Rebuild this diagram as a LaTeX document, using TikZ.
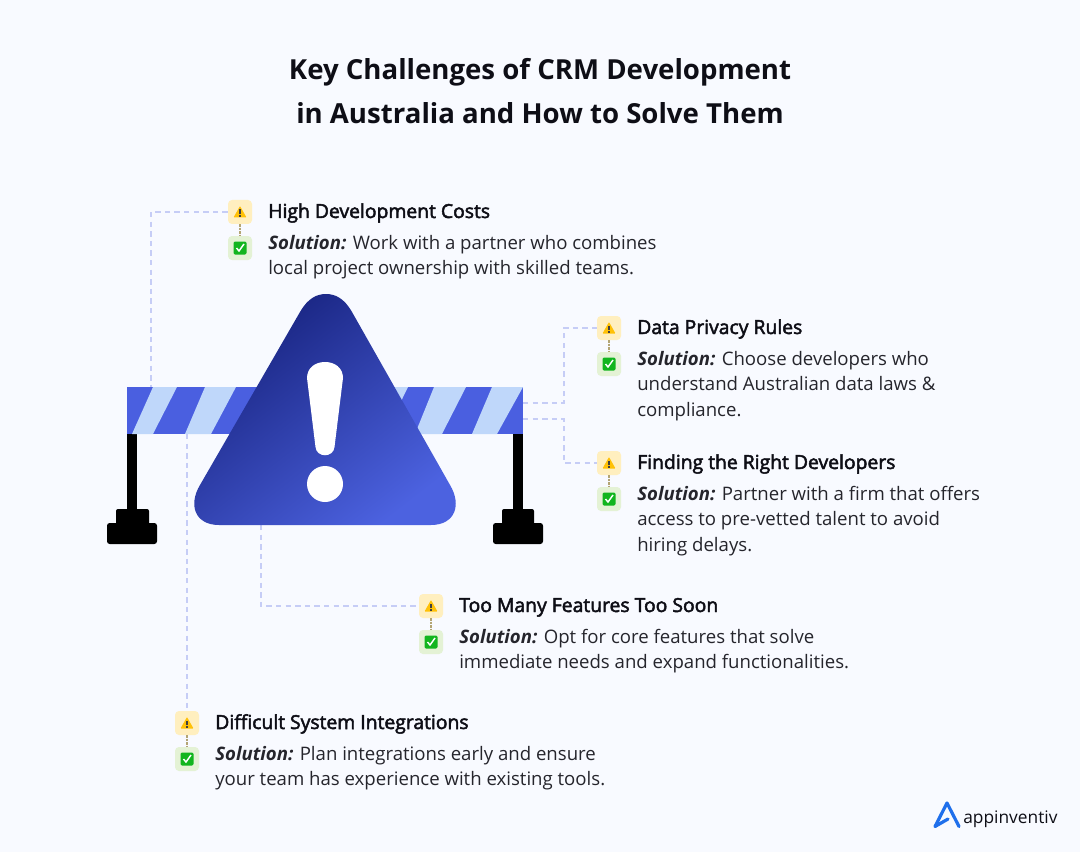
\documentclass[tikz,border=0pt]{standalone}
\usepackage{fontspec}
\setmainfont{Open Sans}
\newfontfamily\headf[FakeBold=2.5]{Open Sans}
\usetikzlibrary{calc}
\definecolor{bgc}{HTML}{F8FAFF}
\definecolor{barblue}{HTML}{4A5FE0}
\definecolor{barlight}{HTML}{BFD7FA}
\definecolor{dashc}{HTML}{C6CDF6}
\definecolor{warnbg}{HTML}{FFEFBF}
\definecolor{okbg}{HTML}{E4F2D5}
\definecolor{warny}{HTML}{FFC107}
\definecolor{okg}{HTML}{12B51F}
\definecolor{linkc}{HTML}{B3A574}
\definecolor{inkc}{HTML}{0E0E16}
\definecolor{bodyc}{HTML}{25252C}
\definecolor{logoc}{HTML}{1F6FEB}
\definecolor{tritop}{HTML}{16217C}
\definecolor{tribot}{HTML}{4C62E0}
\tikzset{
  x=0.75pt,y=-0.75pt,
  titletxt/.style={font=\bfseries\fontsize{20.7pt}{33pt}\selectfont,text=inkc,align=center,inner sep=0},
  headtxt/.style={font=\headf\fontsize{14.5pt}{16pt}\selectfont,text=inkc,anchor=base west,inner sep=0},
  bodytxt/.style={font=\fontsize{13.95pt}{19pt}\selectfont,text=bodyc,anchor=north west,align=left,inner sep=0},
  warnbox/.style={fill=warnbg,rounded corners=3pt,minimum size=18pt,inner sep=0},
  okbox/.style={fill=okbg,rounded corners=3pt,minimum size=18pt,inner sep=0},
  feeder/.style={draw=dashc,line width=0.9pt,dash pattern=on 4pt off 3.2pt},
  linker/.style={draw=linkc,line width=1.2pt,dash pattern=on 1.8pt off 0.8pt},
}
\newcommand{\issue}[5]{%
  \node[warnbox] (#1w) at (#2,#3) {};
  \node[okbox] (#1c) at (#2,#3+36) {};
  \draw[linker] (#1w.south) -- (#1c.north);
  \fill[warny,rounded corners=0.5pt] ($(#1w.center)+(-6.5,5.5)$) -- ($(#1w.center)+(0,-6)$) -- ($(#1w.center)+(6.5,5.5)$) -- cycle;
  \fill[black!75] ($(#1w.center)+(-0.9,-2.5)$) rectangle ($(#1w.center)+(0.9,2)$);
  \fill[black!75] ($(#1w.center)+(-0.9,3)$) rectangle ($(#1w.center)+(0.9,4.8)$);
  \fill[okg,rounded corners=1pt] ($(#1c.center)+(-6.5,-6.5)$) rectangle ($(#1c.center)+(6.5,6.5)$);
  \draw[white,line width=1.1pt] ($(#1c.center)+(-3.5,0)$) -- ($(#1c.center)+(-1,3)$) -- ($(#1c.center)+(4,-4)$);
  \node[headtxt] (#1h) at (#2+28,#3+6) {#4};
  \node[bodytxt] (#1b) at (#2+28,#3+23) {\textbf{\textit{Solution:}} #5};
}
\begin{document}
\begin{tikzpicture}
\useasboundingbox (0,0) rectangle (1080,852);
\fill[bgc] (0,0) rectangle (1080,852);
\node[titletxt] (title) at (540,91) {Key Challenges of CRM Development\\in Australia and How to Solve Them};

% posts
\fill[black] (127,434) rectangle (137,512);
\fill[black,rounded corners=1.5pt] (116,509) rectangle (149,530);
\fill[black,rounded corners=2pt] (107,523) rectangle (157,544);
\fill[black] (513,434) rectangle (523,512);
\fill[black,rounded corners=1.5pt] (502,509) rectangle (534,530);
\fill[black,rounded corners=2pt] (493,523) rectangle (543,544);

% bar
\fill[barblue] (127,387) rectangle (523,434);
\fill[barlight] (153,387) -- (177,387) -- (153,434) -- (132,434) -- cycle;
\fill[barlight] (205,387) -- (236,387) -- (211,434) -- (185,434) -- cycle;
\fill[barlight] (380,387) -- (408,387) -- (385,434) -- (360,434) -- cycle;
\fill[barlight] (434,387) -- (466,387) -- (442,434) -- (415,434) -- cycle;
\fill[barlight] (492,387) -- (523,387) -- (497,434) -- (472,434) -- cycle;

% issues
\issue{a}{240}{212}{High Development Costs}{Work with a partner who combines\\local project ownership with skilled teams.}
\issue{b}{609}{328}{Data Privacy Rules}{Choose developers who\\understand Australian data laws \&\\compliance.}
\issue{c}{609}{463}{Finding the Right Developers}{Partner with a firm that offers\\access to pre-vetted talent to avoid\\hiring delays.}
\issue{d}{431}{606}{Too Many Features Too Soon}{Opt for core features that solve\\immediate needs and expand functionalities.}
\issue{e}{187}{723}{Difficult System Integrations}{Plan integrations early and ensure\\your team has experience with existing tools.}

% connector anchors
\coordinate (ba) at (151,387);
\coordinate (bb) at (523,403);
\coordinate (bc) at (523,419);
\coordinate (td) at (261,525);
\coordinate (be) at (187,434);
\draw[feeder] (aw.west) -| (ba);
\draw[feeder] (bb) -| (564,328) -- (bw.west);
\draw[feeder] (bc) -| (564,463) -- (cw.west);
\draw[feeder] (td) |- (dw.west);
\draw[feeder] (be) -- (ew.north);

% triangle
\shade[shading=axis,top color=tritop,bottom color=tribot,shading angle=38]
  (300,312) .. controls (308,298) and (317,294) .. (326,294)
  .. controls (335,294) and (344,298) .. (352,312)
  -- (450,485) .. controls (462,505) and (455,525) .. (431,525)
  -- (219,525) .. controls (195,525) and (188,505) .. (200,485) -- cycle;
% exclamation
\fill[white] (307,378) .. controls (307,368) and (315,362) .. (325,362) .. controls (335,362) and (343,368) .. (343,378) -- (334.5,447) .. controls (333.5,458) and (316.5,458) .. (315.5,447) -- cycle;
\fill[white] (325,484) circle[radius=18];

% logo
\draw[logoc,line width=2.4pt,line join=round,line cap=round] (948,819) -- (935,826.5) -- (947,803) -- (959,826.5);
\node[font=\fontsize{13pt}{16pt}\selectfont,text=inkc,anchor=base west,inner sep=0] (logo) at (963,823) {appinventiv};
\end{tikzpicture}
\end{document}
